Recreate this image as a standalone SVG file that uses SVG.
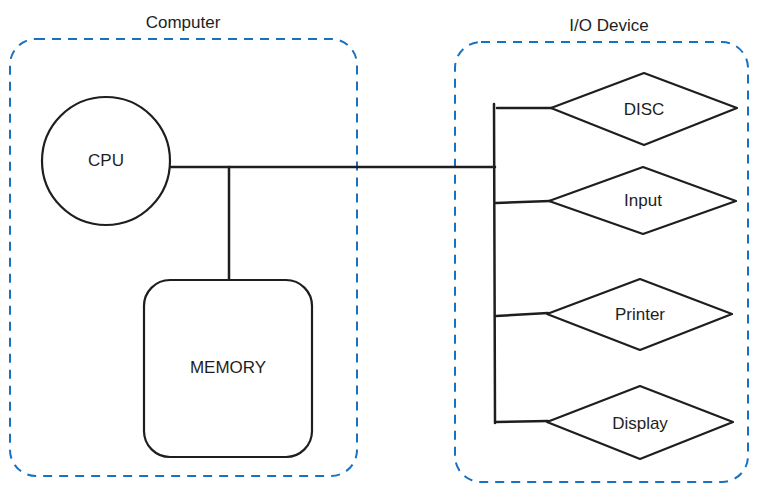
<svg xmlns="http://www.w3.org/2000/svg" width="757" height="490" viewBox="0 0 757 490">
<style>
.box{fill:none;stroke:#1971c2;stroke-width:2;stroke-dasharray:9 7}
.shape{fill:#ffffff;stroke:#1e1e1e;stroke-width:2.2;stroke-linejoin:round}
.wire{fill:none;stroke:#1e1e1e;stroke-width:2.5;stroke-linecap:round}
.lbl{font-family:"Liberation Sans",Arial,sans-serif;font-size:17px;fill:#1e1e1e;text-anchor:middle;dominant-baseline:central}
</style>
<rect width="757" height="490" fill="#ffffff"/>
<g id="computer">
<rect class="box" x="10" y="39" width="347" height="437" rx="26"/>
<text class="lbl" x="183" y="22">Computer</text>
</g>
<g id="io-device">
<rect class="box" x="455" y="42" width="293" height="440" rx="26"/>
<text class="lbl" x="609" y="25">I/O Device</text>
</g>
<g id="connectors">
<path class="wire" d="M171 167 L495 167"/>
<path class="wire" d="M229 167 L229 280"/>
<path class="wire" d="M494 104 L495 423"/>
<path class="wire" d="M497 108 L552 108"/>
<path class="wire" d="M496 203 L550 201"/>
<path class="wire" d="M496 316 L548 313"/>
<path class="wire" d="M496 422 L548 421"/>
</g>
<g id="cpu">
<circle class="shape" cx="106" cy="161" r="64"/>
<text class="lbl" x="106" y="160">CPU</text>
</g>
<g id="memory">
<rect class="shape" x="144" y="280" width="168" height="177" rx="26"/>
<text class="lbl" x="228" y="367">MEMORY</text>
</g>
<g id="disc">
<path class="shape" d="M551 108 L644 73 L737 108 L644 145 Z"/>
<text class="lbl" x="644" y="109">DISC</text>
</g>
<g id="input">
<path class="shape" d="M549 201 L643 167 L736 201 L643 234 Z"/>
<text class="lbl" x="643" y="200">Input</text>
</g>
<g id="printer">
<path class="shape" d="M547 314 L640 279 L732 314 L640 350 Z"/>
<text class="lbl" x="640" y="314">Printer</text>
</g>
<g id="display">
<path class="shape" d="M547 422 L640 386 L733 422 L640 459 Z"/>
<text class="lbl" x="640" y="423">Display</text>
</g>
</svg>
